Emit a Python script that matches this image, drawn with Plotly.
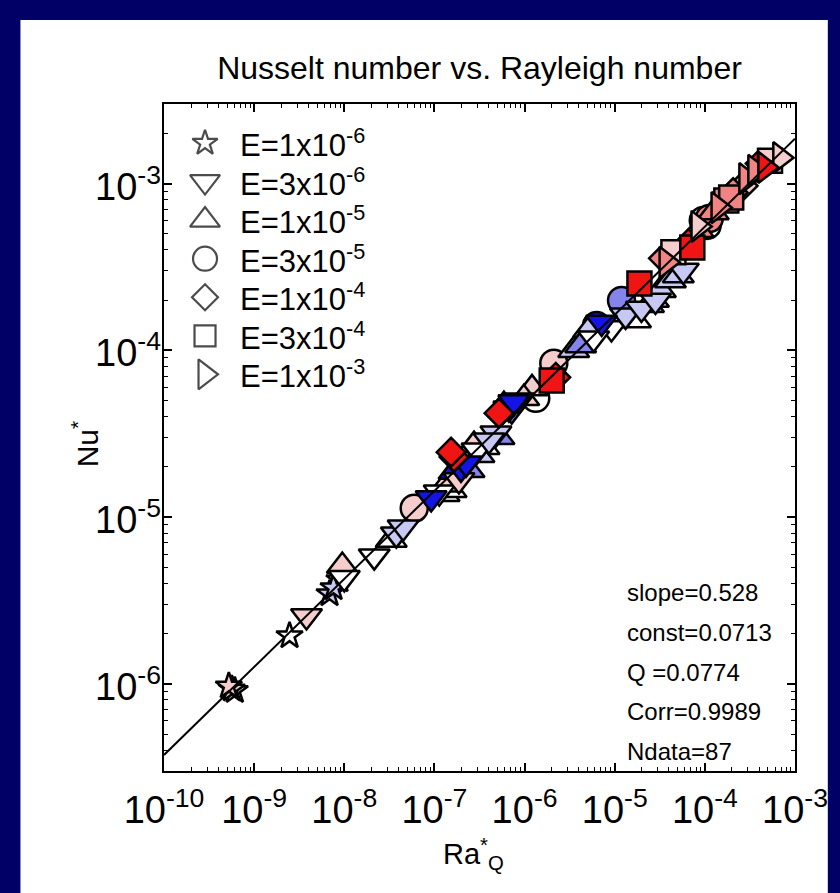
import plotly.graph_objects as go
import numpy as np

# ---------------- data ----------------
palette = {"W": "#ffffff", "LB": "#c8c8f5", "MB": "#8484ec", "B": "#1414e6",
           "LP": "#f5cdcd", "S": "#f08484", "R": "#f01414"}
draw_rank = {"W": 0, "LB": 1, "LP": 2, "MB": 3, "S": 4, "B": 5, "R": 6}

legend_labels = ["E=1x10<sup>-6</sup>", "E=3x10<sup>-6</sup>", "E=1x10<sup>-5</sup>",
                 "E=3x10<sup>-5</sup>", "E=1x10<sup>-4</sup>", "E=3x10<sup>-4</sup>",
                 "E=1x10<sup>-3</sup>"]

star_ra = [5.65e-10, 6.1e-10, 5.24e-10, 2.47e-9, 6.86e-9, 8.83e-9, 7.6e-9]
star_nu = [9.3e-7, 9.1e-7, 9.7e-7, 1.94e-6, 3.46e-6, 4.2e-6, 3.76e-6]
star_c = ["LP", "W", "LP", "W", "LB", "W", "LB"]

tdown_ra = [3.81e-9, 1.0e-8, 2.15e-8, 3.78e-8, 4.5e-8, 9.2e-8, 1.13e-7, 1.97e-7, 4.81e-7,
            6.7e-7, 8.65e-7, 7.16e-6, 9.2e-6, 1.32e-5, 1.98e-5, 2.83e-5, 5.77e-5, 2.24e-7,
            1.87e-7, 4.03e-7, 2.97e-7, 7.6e-7, 7.2e-7, 5.84e-6]
tdown_nu = [2.55e-6, 4.32e-6, 5.83e-6, 7.9e-6, 8.7e-6, 1.30e-5, 1.41e-5, 1.96e-5, 3.18e-5,
            4.5e-5, 5.02e-5, 1.47e-4, 1.36e-4, 1.62e-4, 1.78e-4, 1.99e-4, 3.01e-4, 2.10e-5,
            1.67e-5, 2.89e-5, 2.52e-5, 4.89e-5, 4.38e-5, 1.18e-4]
tdown_c = ["LP", "W", "W", "LB", "LB", "B", "W", "B", "LB", "B", "B", "B", "W", "LB", "LB",
           "LB", "LB", "B", "LP", "LB", "W", "B", "MB", "W"]

tup_ra = [9.5e-9, 3.32e-8, 1.28e-7, 1.35e-7, 2.42e-7, 2.75e-7, 3.55e-7, 5.2e-7, 1.21e-6,
          3.51e-6, 4.19e-6, 1.70e-5, 2.69e-5, 3.21e-5, 4.15e-5, 5.08e-5, 1.24e-4, 2.37e-5,
          1.65e-7, 1.53e-7, 3.12e-7, 5.9e-7, 9.8e-7, 5.14e-6, 8.45e-5]
tup_nu = [5.09e-6, 7.28e-6, 1.37e-5, 1.56e-5, 1.91e-5, 2.70e-5, 2.62e-5, 3.01e-5, 5.91e-5,
          1.0e-4, 1.07e-4, 1.51e-4, 2.0e-4, 2.29e-4, 2.62e-4, 2.81e-4, 6.7e-4, 1.86e-4,
          1.86e-5, 1.45e-5, 2.35e-5, 4.69e-5, 5.16e-5, 1.32e-4, 5.24e-4]
tup_c = ["LP", "W", "W", "LP", "MB", "LP", "W", "MB", "LP", "LB", "MB", "W", "LB", "LB", "LB",
         "LB", "S", "LB", "B", "W", "LB", "B", "LP", "LB", "S"]

circ_ra = [5.97e-8, 1.33e-6, 2.11e-6, 6.29e-6, 1.19e-5, 9.6e-5, 1.06e-4, 1.12e-4]
circ_nu = [1.13e-5, 5.16e-5, 8.36e-5, 1.41e-4, 1.99e-4, 6.0e-4, 5.61e-4, 6.17e-4]
circ_c = ["LP", "W", "LP", "B", "MB", "W", "W", "S"]

diam_ra = [1.65e-7, 5.2e-7, 2.22e-6, 6.56e-5, 3.47e-5, 2.06e-4, 4.1e-4, 2.66e-4, 1.53e-7]
diam_nu = [2.29e-5, 4.2e-5, 6.89e-5, 4.37e-4, 3.56e-4, 8.83e-4, 1.32e-3, 9.7e-4, 2.45e-5]
diam_c = ["R", "R", "R", "R", "S", "S", "R", "LP", "R"]

sq_ra = [1.88e-5, 4.48e-5, 1.73e-4, 5.28e-4, 1.96e-4, 7.26e-5, 2.0e-6]
sq_nu = [2.52e-4, 3.87e-4, 7.91e-4, 1.37e-3, 8.24e-4, 4.14e-4, 6.6e-5]
sq_c = ["R", "LP", "S", "LP", "S", "R", "R"]

tr_ra = [2.87e-4, 1.41e-4, 6.83e-4, 4.66e-4, 3.61e-4, 3.74e-5, 8.45e-5]
tr_nu = [1.07e-3, 7.18e-4, 1.43e-3, 1.25e-3, 1.20e-3, 3.37e-4, 5.53e-4]
tr_c = ["S", "S", "LP", "R", "S", "S", "LP"]

fit_slope = 0.528
fit_const = 0.0713
fit_range = [1e-10, 1e-3]
stats_text = ["slope=0.528", "const=0.0713", "Q =0.0774", "Corr=0.9989", "Ndata=87"]

x_tick_exp = [-10, -9, -8, -7, -6, -5, -4, -3]
y_tick_exp = [-6, -5, -4, -3]
y_range = [3e-7, 3e-3]

# ---------------- figure ----------------
FONT = "Liberation Sans, Arial, sans-serif"
series = [
    (star_ra, star_nu, star_c, "star", 20),
    (circ_ra, circ_nu, circ_c, "circle", 27),
    (tup_ra, tup_nu, tup_c, "triangle-up", 27),
    (tdown_ra, tdown_nu, tdown_c, "triangle-down", 27),
    (diam_ra, diam_nu, diam_c, "diamond", 22),
    (sq_ra, sq_nu, sq_c, "square", 24),
    (tr_ra, tr_nu, tr_c, "triangle-right", 27),
]

fig = go.Figure()
for ra, nu, cc, sym, sz in series:
    order = sorted(range(len(ra)), key=lambda i: draw_rank[cc[i]])
    fig.add_trace(go.Scatter(
        x=[ra[i] for i in order], y=[nu[i] for i in order], mode="markers",
        showlegend=False, hoverinfo="skip",
        marker=dict(symbol=sym, size=sz, color=[palette[cc[i]] for i in order],
                    line=dict(color="black", width=2.5))))

fx = np.array(fit_range)
fig.add_trace(go.Scatter(x=fx, y=fit_const * fx ** fit_slope, mode="lines",
                         line=dict(color="black", width=2), showlegend=False,
                         hoverinfo="skip"))

# manual legend (overlay axis in [0,1])
leg_syms = ["star", "triangle-down", "triangle-up", "circle", "diamond", "square",
            "triangle-right"]
leg_sizes = [19, 26, 26, 24, 20, 21, 26]
leg_y = [0.9415 - 0.0578 * i for i in range(7)]
fig.add_trace(go.Scatter(
    x=[0.065] * 7, y=leg_y, xaxis="x2", yaxis="y2", mode="markers", showlegend=False,
    hoverinfo="skip",
    marker=dict(symbol=leg_syms, size=leg_sizes, color="white",
                line=dict(color="black", width=2.2))))

annotations = []
for lab, yy in zip(legend_labels, leg_y):
    annotations.append(dict(x=0.118, y=yy, xref="paper", yref="paper", text=lab,
                            showarrow=False, xanchor="left", yanchor="middle",
                            font=dict(size=31, family=FONT, color="black")))
stats_y = [0.268, 0.207, 0.148, 0.0885, 0.0285]
for t, yy in zip(stats_text, stats_y):
    annotations.append(dict(x=0.731, y=yy, xref="paper", yref="paper", text=t,
                            showarrow=False, xanchor="left", yanchor="middle",
                            font=dict(size=24, family=FONT, color="black")))
# y tick labels placed tight to the axis (as in the reference)
for e in y_tick_exp:
    annotations.append(dict(x=-0.002, y=e, xref="paper", yref="y",
                            text="10<sup>%d</sup>" % e, showarrow=False,
                            xanchor="right", yanchor="middle",
                            font=dict(size=38, family=FONT, color="black")))
# axis titles
annotations.append(dict(x=0.49, y=-0.124, xref="paper", yref="paper",
                        text="Ra<sup>*</sup><sub>Q</sub>", showarrow=False,
                        xanchor="center", yanchor="middle",
                        font=dict(size=29, family=FONT, color="black")))
annotations.append(dict(x=-0.125, y=0.49, xref="paper", yref="paper",
                        text="Nu<sup>*</sup>", showarrow=False, textangle=-90,
                        xanchor="center", yanchor="middle",
                        font=dict(size=30, family=FONT, color="black")))


def minor_vals(e0, e1):
    return [k * 10.0 ** e for e in range(e0, e1) for k in range(2, 10)]


axis_common = dict(type="log", showgrid=False, zeroline=False, showline=True,
                   linecolor="black", linewidth=2, mirror="allticks", ticks="inside",
                   ticklen=8, tickwidth=1.5, tickcolor="black",
                   tickfont=dict(size=38, family=FONT, color="black"))

fig.update_layout(
    width=840, height=893,
    margin=dict(l=164, r=43, t=104, b=122),
    paper_bgcolor="#000066", plot_bgcolor="white",
    font=dict(family=FONT, color="black"),
    title=dict(text="Nusselt number vs. Rayleigh number", x=0.5, xref="paper",
               xanchor="center", y=1 - 68 / 893, yref="container", yanchor="middle",
               font=dict(size=32, family=FONT, color="black")),
    xaxis=dict(**axis_common, range=[-10, -3], ticklabelstandoff=4,
               tickvals=[10.0 ** e for e in x_tick_exp],
               ticktext=["10<sup>%d</sup>" % e for e in x_tick_exp],
               minor=dict(ticks="inside", ticklen=4, tickwidth=1, tickcolor="black",
                          tickvals=minor_vals(-10, -3))),
    yaxis=dict(**axis_common, range=[np.log10(y_range[0]), np.log10(y_range[1])],
               tickvals=[10.0 ** e for e in y_tick_exp], showticklabels=False,
               minor=dict(ticks="inside", ticklen=4, tickwidth=1, tickcolor="black",
                          tickvals=minor_vals(-7, -2))),
    xaxis2=dict(overlaying="x", range=[0, 1], visible=False, fixedrange=True),
    yaxis2=dict(overlaying="y", range=[0, 1], visible=False, fixedrange=True),
    shapes=[dict(type="rect", xref="paper", yref="paper", x0=-0.2275, x1=1.052,
                 y0=-0.25, y1=1.126, fillcolor="white", line=dict(width=0),
                 layer="below")],
    annotations=annotations,
)

fig.write_html("out.html")
